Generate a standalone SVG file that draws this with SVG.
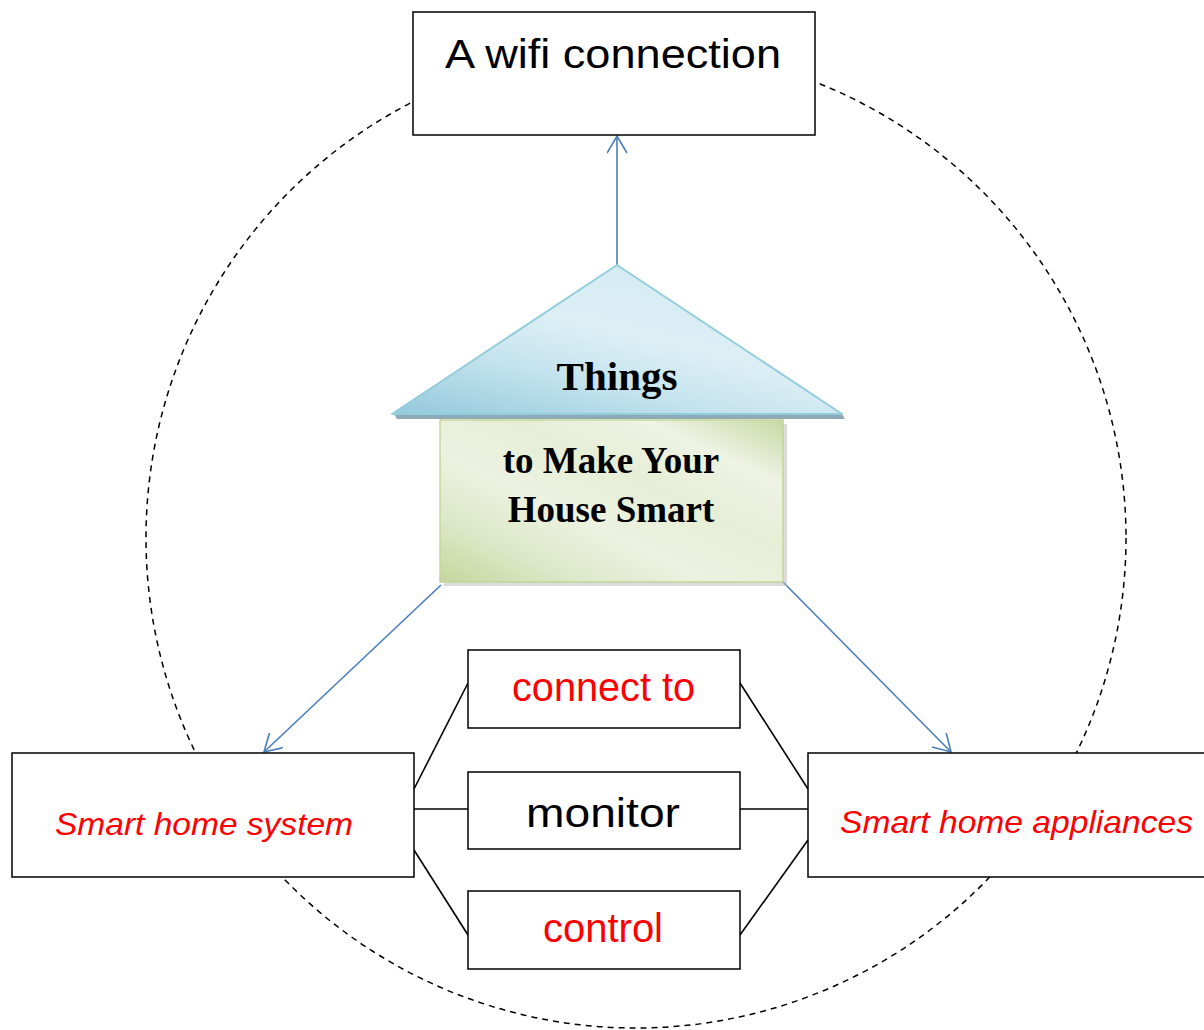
<svg xmlns="http://www.w3.org/2000/svg" width="1204" height="1030" viewBox="0 0 1204 1030">
  <defs>
    <style>
      .box { fill: #ffffff; stroke: #000000; stroke-width: 1.5; }
      .sans { font-family: "Liberation Sans", Arial, sans-serif; }
      .serif { font-family: "Liberation Serif", "Times New Roman", serif; font-weight: bold; fill: #000; }
      .red { fill: #ff0000; }
      .blk { fill: #000000; }
      .blue { stroke: #4a7ebb; stroke-width: 1.6; fill: none; }
      .link { stroke: #000000; stroke-width: 1.6; fill: none; }
    </style>
    <marker id="arrow" markerUnits="userSpaceOnUse" markerWidth="22" markerHeight="22" refX="18" refY="10" orient="auto" viewBox="0 0 22 22">
      <path d="M1,0 L18,10 L1,20" fill="none" stroke="#4a7ebb" stroke-width="1.6"/>
    </marker>
    <linearGradient id="roofGrad" x1="0" y1="1" x2="0.7" y2="0">
      <stop offset="0" stop-color="#93c9dc"/>
      <stop offset="0.35" stop-color="#c4e3ee"/>
      <stop offset="0.6" stop-color="#ddeff5"/>
      <stop offset="1" stop-color="#d3eaf2"/>
    </linearGradient>
    <linearGradient id="bodyGrad" x1="0" y1="1" x2="1" y2="0">
      <stop offset="0" stop-color="#c4d79c"/>
      <stop offset="0.2" stop-color="#dde8c8"/>
      <stop offset="0.4" stop-color="#ecf2e0"/>
      <stop offset="0.6" stop-color="#e6eed6"/>
      <stop offset="0.8" stop-color="#eef3e3"/>
      <stop offset="1" stop-color="#c8d9a4"/>
    </linearGradient>
  </defs>

  <rect width="1204" height="1030" fill="#ffffff"/>

  <!-- dashed circle -->
  <g id="circle">
    <circle cx="636" cy="538" r="490" fill="none" stroke="#000000" stroke-width="1.5" stroke-dasharray="6,5"/>
  </g>

  <!-- connectors -->
  <g id="connectors">
    <line class="blue" x1="617" y1="265" x2="617" y2="136" marker-end="url(#arrow)"/>
    <line class="blue" x1="441" y1="585" x2="264" y2="752" marker-end="url(#arrow)"/>
    <line class="blue" x1="781" y1="580" x2="951" y2="752" marker-end="url(#arrow)"/>
    <line class="link" x1="414" y1="789" x2="468" y2="683"/>
    <line class="link" x1="414" y1="809" x2="468" y2="809"/>
    <line class="link" x1="414" y1="850" x2="468" y2="935"/>
    <line class="link" x1="740" y1="683" x2="808" y2="789"/>
    <line class="link" x1="740" y1="809" x2="808" y2="809"/>
    <line class="link" x1="740" y1="935" x2="808" y2="840"/>
  </g>

  <!-- wifi box -->
  <g id="wifi">
    <rect class="box" x="413" y="12" width="402" height="123"/>
    <text class="sans blk" x="445" y="68" font-size="40" textLength="336" lengthAdjust="spacingAndGlyphs">A wifi connection</text>
  </g>

  <!-- house -->
  <g id="house">
    <polygon points="394,414 842,414 845,419 397,419" fill="#8faab6"/>
    <rect x="444" y="424" width="343" height="162" fill="#b8b8b8" opacity="0.5"/>
    <rect x="440" y="420" width="343" height="162" fill="url(#bodyGrad)" stroke="#c3d69b" stroke-width="1.5"/>
    <polygon points="617,265 842,414 392,414" fill="url(#roofGrad)" stroke="#92cddc" stroke-width="2" stroke-linejoin="round"/>
    <text class="serif" x="617" y="390" font-size="41" text-anchor="middle">Things</text>
    <text class="serif" x="611" y="473" font-size="37" text-anchor="middle">to Make Your</text>
    <text class="serif" x="611" y="522" font-size="37" text-anchor="middle">House Smart</text>
  </g>

  <!-- left box -->
  <g id="system">
    <rect class="box" x="12" y="753" width="402" height="124"/>
    <text class="sans red" x="55" y="835" font-size="32" font-style="italic" textLength="298" lengthAdjust="spacingAndGlyphs">Smart home system</text>
  </g>

  <!-- right box -->
  <g id="appliances">
    <rect class="box" x="808" y="753" width="410" height="124"/>
    <text class="sans red" x="840" y="833" font-size="32" font-style="italic" textLength="353" lengthAdjust="spacingAndGlyphs">Smart home appliances</text>
  </g>

  <!-- middle boxes -->
  <g id="connect">
    <rect class="box" x="468" y="650" width="272" height="78"/>
    <text class="sans red" x="512" y="701" font-size="41" textLength="183" lengthAdjust="spacingAndGlyphs">connect to</text>
  </g>
  <g id="monitor">
    <rect class="box" x="468" y="772" width="272" height="77"/>
    <text class="sans blk" x="526" y="827" font-size="41" textLength="154" lengthAdjust="spacingAndGlyphs">monitor</text>
  </g>
  <g id="control">
    <rect class="box" x="468" y="891" width="272" height="78"/>
    <text class="sans red" x="543" y="942" font-size="41" textLength="120" lengthAdjust="spacingAndGlyphs">control</text>
  </g>
</svg>
